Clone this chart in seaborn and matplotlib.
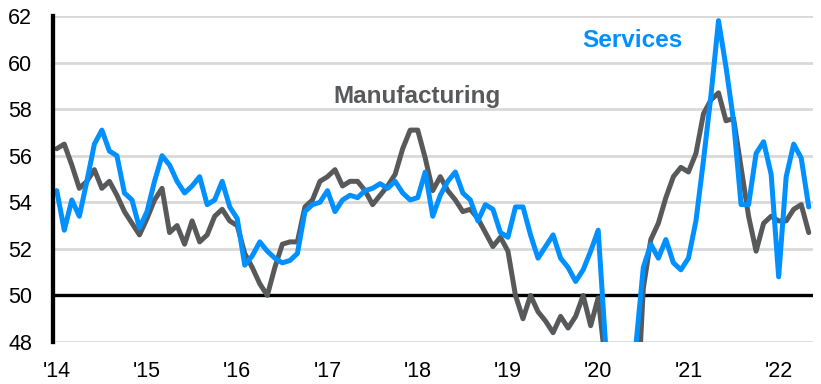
import matplotlib
matplotlib.use("Agg")
import numpy as np
import pandas as pd
import matplotlib.pyplot as plt
import seaborn as sns

# monthly PMI readings, Jan 2014 - May 2022 (values below 48 fall off the chart)
manufacturing = [56.3, 56.5, 55.6, 54.6, 54.9, 55.4, 54.6, 54.9, 54.3, 53.6, 53.1, 52.6,
                 53.3, 54.1, 54.6, 52.7, 53.0, 52.2, 53.2, 52.3, 52.6, 53.4, 53.7, 53.2,
                 53.0, 51.8, 51.2, 50.5, 50.0, 51.2, 52.2, 52.3, 52.3, 53.8, 54.1, 54.9,
                 55.1, 55.4, 54.7, 54.9, 54.9, 54.5, 53.9, 54.3, 54.7, 55.2, 56.3, 57.1,
                 57.1, 55.9, 54.5, 55.1, 54.5, 54.1, 53.6, 53.7, 53.3, 52.7, 52.1, 52.5,
                 51.9, 50.0, 49.0, 50.0, 49.3, 48.9, 48.4, 49.1, 48.6, 49.1, 50.0, 48.7,
                 49.9, 47.0, 42.0, 36.0, 40.0, 44.0, 50.3, 52.4, 53.1, 54.2, 55.1, 55.5,
                 55.3, 56.1, 57.8, 58.4, 58.7, 57.5, 57.6, 55.5, 53.4, 51.9, 53.1, 53.4,
                 53.2, 53.2, 53.7, 53.9, 52.7]
services = [54.5, 52.8, 54.1, 53.4, 54.9, 56.5, 57.1, 56.2, 56.0, 54.4, 54.1, 52.9,
            53.6, 54.9, 56.0, 55.6, 54.9, 54.4, 54.7, 55.1, 53.9, 54.1, 54.9, 53.8,
            53.3, 51.3, 51.7, 52.3, 51.9, 51.6, 51.4, 51.5, 51.8, 53.6, 53.9, 54.0,
            54.5, 53.6, 54.1, 54.3, 54.2, 54.5, 54.6, 54.8, 54.6, 54.9, 54.4, 54.1,
            54.2, 55.3, 53.4, 54.3, 54.9, 55.3, 54.4, 54.1, 53.2, 53.9, 53.7, 52.7,
            52.5, 53.8, 53.8, 52.6, 51.6, 52.1, 52.6, 51.6, 51.2, 50.6, 51.1, 51.9,
            52.8, 47.8, 32.0, 28.0, 38.0, 47.8, 51.2, 52.2, 51.6, 52.4, 51.4, 51.1,
            51.6, 53.2, 55.8, 58.6, 61.8, 59.8, 57.5, 53.9, 53.9, 56.1, 56.6, 55.2,
            50.8, 55.1, 56.5, 55.9, 53.8]
year_labels = ["'14", "'15", "'16", "'17", "'18", "'19", "'20", "'21", "'22"]

gray = "#58595B"
blue = "#0090FF"

df = pd.DataFrame({"month": np.arange(len(manufacturing)),
                   "Manufacturing": manufacturing,
                   "Services": services})
df = df.melt(id_vars="month", var_name="series", value_name="pmi")

sns.set_style("white")
plt.rcParams["font.family"] = ["Liberation Sans", "DejaVu Sans"]

fig, ax = plt.subplots(figsize=(8.21, 3.84), dpi=100)
fig.subplots_adjust(left=53/821, right=812.5/821, top=1-16/384, bottom=1-342/384)

sns.lineplot(data=df, x="month", y="pmi", hue="series",
             hue_order=["Manufacturing", "Services"],
             palette={"Manufacturing": gray, "Services": blue},
             linewidth=3.6, legend=False, ax=ax)
for ln in ax.get_lines():
    ln.set_solid_joinstyle("round")

ax.set_ylim(48, 62)
ax.set_xlim(-0.5, len(manufacturing) - 0.5)
ax.set_yticks(range(48, 63, 2))
ax.set_xticks(range(0, 12*len(year_labels), 12))
ax.set_xticklabels(year_labels)
ax.grid(axis="y", color="#D9D9D9", linewidth=2)
ax.grid(axis="x", visible=False)
ax.set_axisbelow(True)
ax.axhline(50, color="black", linewidth=2.4, zorder=1.5)

for s in ["top", "right", "bottom"]:
    ax.spines[s].set_visible(False)
ax.spines["left"].set_color("black")
ax.spines["left"].set_linewidth(3.1)

ax.tick_params(axis="both", length=0, labelsize=15.5, colors="black")
ax.tick_params(axis="y", pad=15)
ax.tick_params(axis="x", pad=14)
ax.set_xlabel("")
ax.set_ylabel("")

ax.text(47.9, 58.27, "Manufacturing", color=gray, fontsize=17.5, fontweight="bold",
        ha="center", va="baseline")
ax.text(76.6, 60.66, "Services", color=blue, fontsize=17.5, fontweight="bold",
        ha="center", va="baseline")

fig.savefig("out.png", dpi=100)
